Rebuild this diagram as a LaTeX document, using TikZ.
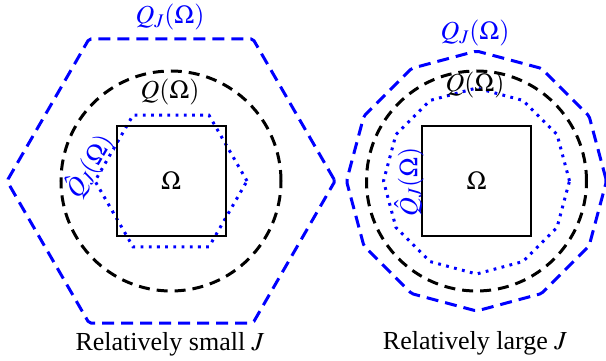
\documentclass[tikz,border=0pt]{standalone}
\usepackage{mathptmx}
\usepackage{fontspec}
\setmainfont{Liberation Serif}
\begin{document}
\begin{tikzpicture}[x=1pt,y=-1pt,
  sq/.style={draw,line width=2pt,minimum size=109pt,inner sep=0pt},
  blk/.style={draw=black,line width=3pt,dash pattern=on 11pt off 7pt},
  bl/.style={draw=blue,line width=3pt,dash pattern=on 12pt off 7pt,rounded corners=2pt},
  dt/.style={draw=blue,line width=3pt,dash pattern=on 2.8pt off 5.4pt},
  lab/.style={font=\fontsize{26}{30}\selectfont,inner sep=0pt},
  bllab/.style={lab,text=blue}]
\useasboundingbox (0,0) rectangle (606,361);
% ---------- left ----------
\coordinate (cL) at (171,181);
\draw[bl,shift={(cL)}] (0:164pt) \foreach \a in {60,120,...,300} {-- (\a:164pt)} -- cycle;
\draw[blk] (cL) circle (110pt);
\draw[dt,shift={(cL)}] (0:76pt) \foreach \a in {60,120,...,300} {-- (\a:76pt)} -- cycle;
\node[sq] (sqL) at (cL) {};
\node[lab] (omL) at (cL) {$\Omega$};
\node[bllab] (qjL) at (170,17) {$Q_J(\Omega)$};
\node[lab] (qL) at (170,92) {$Q(\Omega)$};
\node[bllab,rotate=60] (hqL) at (89,166) {$\hat{Q}_J(\Omega)$};
\node[lab] (capL) at (170,344) {Relatively small $J$};
% ---------- right ----------
\coordinate (cR) at (476.5,181);
\draw[bl,shift={(cR)}] (0:130pt) \foreach \a in {30,60,...,330} {-- (\a:130pt)} -- cycle;
\draw[blk] (cR) circle (110pt);
\draw[dt,shift={(cR)}] (0:93pt) \foreach \a in {30,60,...,330} {-- (\a:93pt)} -- cycle;
\node[sq] (sqR) at (cR) {};
\node[lab] (omR) at (cR) {$\Omega$};
\node[bllab] (qjR) at (475,33) {$Q_J(\Omega)$};
\node[lab] (qR) at (475,85) {$Q(\Omega)$};
\node[bllab,rotate=90] (hqR) at (409,182) {$\hat{Q}_J(\Omega)$};
\node[lab] (capR) at (475,343) {Relatively large $J$};
\end{tikzpicture}
\end{document}
